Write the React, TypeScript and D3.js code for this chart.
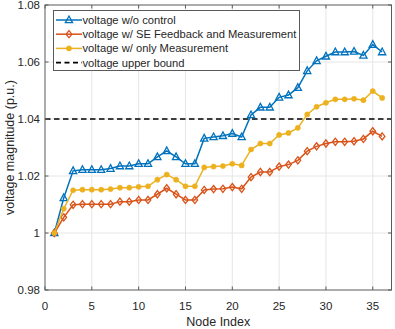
import React from 'react';
import { scaleLinear, line, range } from 'd3';

// node index 1..36
const nodes = range(1, 37);

const voltNoControl = [
  1.0, 1.0123, 1.0218, 1.0222, 1.0222, 1.0222, 1.0226, 1.0235, 1.0235, 1.0243,
  1.0243, 1.0267, 1.0288, 1.0267, 1.0243, 1.0243, 1.0332, 1.0337, 1.0341, 1.0349,
  1.0337, 1.0414, 1.0441, 1.0441, 1.0476, 1.0484, 1.051, 1.0569, 1.0604, 1.062,
  1.0635, 1.0635, 1.0637, 1.0623, 1.0661, 1.0635,
];

const voltSEFeedback = [
  1.0, 1.0055, 1.0099, 1.0101, 1.0101, 1.0101, 1.0101, 1.011, 1.011, 1.0116,
  1.0116, 1.0136, 1.0157, 1.0136, 1.0116, 1.0116, 1.0151, 1.0154, 1.0155, 1.0161,
  1.0155, 1.0196, 1.0214, 1.0214, 1.0233, 1.024, 1.0255, 1.0287, 1.0304, 1.0314,
  1.032, 1.032, 1.0322, 1.033, 1.0357, 1.0339,
];

const voltOnlyMeas = [
  1.0, 1.0085, 1.015, 1.0152, 1.0152, 1.0152, 1.0154, 1.0159, 1.0159, 1.0162,
  1.0164, 1.0187, 1.0205, 1.0187, 1.0164, 1.0164, 1.023, 1.0233, 1.0235, 1.0243,
  1.0237, 1.0293, 1.0314, 1.0314, 1.0344, 1.0351, 1.0369, 1.0416, 1.0443, 1.0457,
  1.0469, 1.0469, 1.0471, 1.0466, 1.0498, 1.0474,
];

const upperBound = 1.04;

const xTicks = [0, 5, 10, 15, 20, 25, 30, 35];
const yTicks = [0.98, 1.0, 1.02, 1.04, 1.06, 1.08];
const yTickLabels = ['0.98', '1', '1.02', '1.04', '1.06', '1.08'];

const legendLabels = [
  'voltage w/o control',
  'voltage w/ SE Feedback and Measurement',
  'voltage w/ only Measurement',
  'voltage upper bound',
];

const BLUE = '#0072BD';
const ORANGE = '#D95319';
const YELLOW = '#EDB120';
const TEXT = '#262626';
const AXIS = '#5a5a5a';
const GRID = '#e6e6e6';
const FONT = '"Liberation Sans", Arial, Helvetica, sans-serif';

const W = 395;
const H = 329;
const plot = { left: 45, right: 391.5, top: 5, bottom: 290 };

function Marker({ kind, x, y, color }: { kind: string; x: number; y: number; color: string }) {
  if (kind === 'tri') {
    const s = 3.6;
    return (
      <path
        d={`M${x},${y - s * 1.1} L${x + s},${y + s * 0.75} L${x - s},${y + s * 0.75} Z`}
        fill="none"
        stroke={color}
        strokeWidth={1.3}
      />
    );
  }
  if (kind === 'dia') {
    const sx = 2.8;
    const sy = 3.6;
    return (
      <path
        d={`M${x},${y - sy} L${x + sx},${y} L${x},${y + sy} L${x - sx},${y} Z`}
        fill="none"
        stroke={color}
        strokeWidth={1.3}
      />
    );
  }
  return <circle cx={x} cy={y} r={2.6} fill={color} stroke={color} strokeWidth={0.5} />;
}

export default function App() {
  const x = scaleLinear().domain([0, 37]).range([plot.left, plot.right]);
  const y = scaleLinear().domain([0.98, 1.08]).range([plot.bottom, plot.top]);

  const series = [
    { values: voltNoControl, color: BLUE, kind: 'tri' },
    { values: voltSEFeedback, color: ORANGE, kind: 'dia' },
    { values: voltOnlyMeas, color: YELLOW, kind: 'dot' },
  ];

  const path = line<number>()
    .x((_, i) => x(nodes[i]))
    .y((d) => y(d));

  const tickLen = 3.5;

  // legend layout
  const lg = { x: 53.5, y: 10.5, w: 246, h: 60, row: 14.2 };

  return (
    <svg
      width={W}
      height={H}
      style={{ position: 'absolute', left: 0, top: 0, background: '#fff' }}
      fontFamily={FONT}
    >
      <rect x={plot.left} y={plot.top} width={plot.right - plot.left} height={plot.bottom - plot.top} fill="#fff" />

      {/* grid */}
      {xTicks.filter((t) => t > 0).map((t) => (
        <line key={'gx' + t} x1={x(t)} x2={x(t)} y1={plot.top} y2={plot.bottom} stroke={GRID} strokeWidth={1} />
      ))}
      {yTicks.filter((t) => t > 0.98 && t < 1.08).map((t) => (
        <line key={'gy' + t} x1={plot.left} x2={plot.right} y1={y(t)} y2={y(t)} stroke={GRID} strokeWidth={1} />
      ))}

      {/* upper bound */}
      <line
        x1={x(0)}
        x2={x(37)}
        y1={y(upperBound)}
        y2={y(upperBound)}
        stroke="#000"
        strokeWidth={1.6}
        strokeDasharray="5.5,3.5"
      />

      {/* series */}
      {series.map((s, si) => (
        <g key={si}>
          <path d={path(s.values) || ''} fill="none" stroke={s.color} strokeWidth={1.5} />
          {s.values.map((v, i) => (
            <Marker key={i} kind={s.kind} x={x(nodes[i])} y={y(v)} color={s.color} />
          ))}
        </g>
      ))}

      {/* box */}
      <rect
        x={plot.left}
        y={plot.top}
        width={plot.right - plot.left}
        height={plot.bottom - plot.top}
        fill="none"
        stroke={AXIS}
        strokeWidth={1}
      />

      {/* ticks */}
      {xTicks.map((t) => (
        <g key={'tx' + t}>
          <line x1={x(t)} x2={x(t)} y1={plot.bottom} y2={plot.bottom - tickLen} stroke={AXIS} />
          <line x1={x(t)} x2={x(t)} y1={plot.top} y2={plot.top + tickLen} stroke={AXIS} />
          <text x={x(t)} y={310} textAnchor="middle" fontSize={11.5} fill={TEXT}>
            {t}
          </text>
        </g>
      ))}
      {yTicks.map((t, i) => (
        <g key={'ty' + t}>
          <line x1={plot.left} x2={plot.left + tickLen} y1={y(t)} y2={y(t)} stroke={AXIS} />
          <line x1={plot.right} x2={plot.right - tickLen} y1={y(t)} y2={y(t)} stroke={AXIS} />
          <text x={40} y={y(t) + 4} textAnchor="end" fontSize={11.5} fill={TEXT}>
            {yTickLabels[i]}
          </text>
        </g>
      ))}

      {/* axis labels */}
      <text x={(plot.left + plot.right) / 2} y={326} textAnchor="middle" fontSize={12.5} fill={TEXT}>
        Node Index
      </text>
      <text
        transform={`translate(14,${(plot.top + plot.bottom) / 2}) rotate(-90)`}
        textAnchor="middle"
        fontSize={12.5}
        fill={TEXT}
      >
        voltage magnitude (p.u.)
      </text>

      {/* legend */}
      <rect x={lg.x} y={lg.y} width={lg.w} height={lg.h} fill="#fff" stroke={AXIS} strokeWidth={1} />
      {legendLabels.map((lab, i) => {
        const cy = lg.y + 9.5 + i * lg.row;
        const x0 = 56;
        const x1 = 82;
        const s = series[i];
        return (
          <g key={'lg' + i}>
            {s ? (
              <>
                <line x1={x0} x2={x1} y1={cy} y2={cy} stroke={s.color} strokeWidth={1.5} />
                <Marker kind={s.kind} x={(x0 + x1) / 2} y={cy} color={s.color} />
              </>
            ) : (
              <line x1={x0} x2={x1} y1={cy} y2={cy} stroke="#000" strokeWidth={1.6} strokeDasharray="5,3.5" />
            )}
            <text x={82.5} y={cy + 4} fontSize={11.2} fill={TEXT}>
              {lab}
            </text>
          </g>
        );
      })}
    </svg>
  );
}
